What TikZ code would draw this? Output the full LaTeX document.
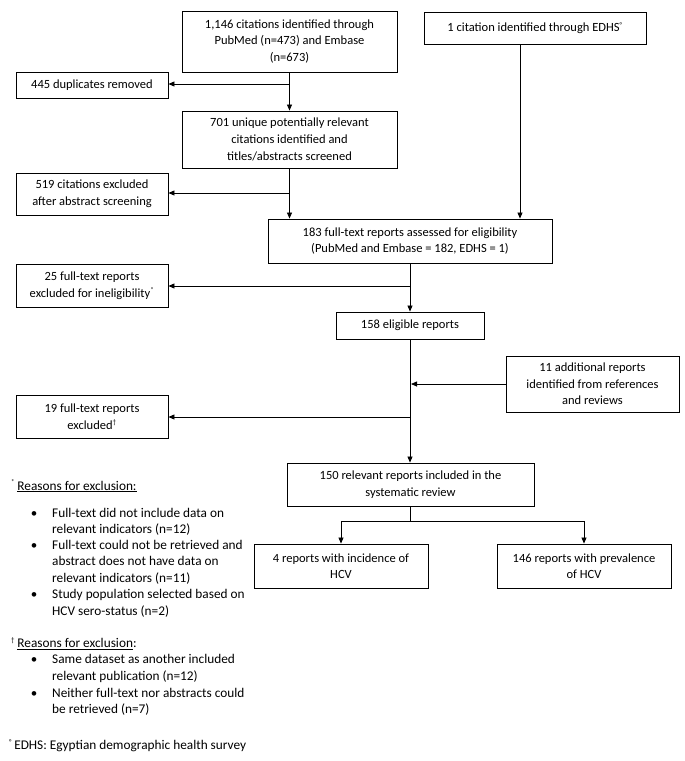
\documentclass[tikz,border=0pt]{standalone}
\usepackage{fontspec}
\setmainfont{Carlito}
\usetikzlibrary{arrows.meta}
\begin{document}
\begin{tikzpicture}[x=1pt,y=-1pt,
  box/.style={draw=black, line width=0.9pt, align=center, inner sep=1pt, font=\fontsize{12.5}{16.6}\selectfont},
  arr/.style={line width=0.8pt, -{Triangle[length=6pt,width=5pt]}},
  ln/.style={line width=0.8pt},
  ft/.style={anchor=base west, inner sep=0pt, font=\fontsize{13.3}{16}\selectfont},
  bul/.style={anchor=base, inner sep=0pt, font=\fontsize{13}{16}\selectfont}]
\useasboundingbox (0,0) rectangle (685,761);
% boxes
\node[box, minimum width=215pt, minimum height=61pt] (A) at (289.5,41.5) {1,146 citations identified through\\PubMed (n=473) and Embase\\(n=673)};
\node[box, minimum width=222pt, minimum height=32pt] (B) at (535,28) {1 citation identified through EDHS\textsuperscript{\scriptsize°}};
\node[box, minimum width=152pt, minimum height=26pt] (dup) at (92,85) {445 duplicates removed};
\node[box, minimum width=215pt, minimum height=57pt] (C) at (289.5,139.5) {701 unique potentially relevant\\citations identified and\\titles/abstracts screened};
\node[box, minimum width=152pt, minimum height=42pt] (exc1) at (92,194) {519 citations excluded\\after abstract screening};
\node[box, minimum width=284pt, minimum height=44pt] (D) at (410,241) {183 full-text reports assessed for eligibility\\(PubMed and Embase = 182, EDHS = 1)};
\node[box, minimum width=152pt, minimum height=43pt] (exc2) at (92,285.5) {25 full-text reports\\excluded for ineligibility\textsuperscript{\scriptsize*}};
\node[box, minimum width=148pt, minimum height=27pt] (elig) at (410,325.5) {158 eligible reports};
\node[box, minimum width=173pt, minimum height=56pt] (add) at (592.5,384) {11 additional reports\\identified from references\\and reviews};
\node[box, minimum width=152pt, minimum height=43pt] (exc3) at (92,416.5) {19 full-text reports\\excluded\textsuperscript{\scriptsize†}};
\node[box, minimum width=247pt, minimum height=43pt] (rel) at (410.5,484.5) {150 relevant reports included in the\\systematic review};
\node[box, minimum width=174pt, minimum height=44pt] (inc) at (341,566) {4 reports with incidence of\\HCV};
\node[box, minimum width=174pt, minimum height=44pt] (prev) at (584,566) {146 reports with prevalence\\of HCV};
% connectors
\coordinate (j1) at (289.5,84);
\coordinate (j2) at (289.5,193);
\coordinate (j3) at (410,286);
\coordinate (j4) at (410,417);
\coordinate (j5) at (410.5,521);
\coordinate (bs) at (520,44);
\draw[arr] (A.south) -- (C.north);
\draw[arr] (j1) -- (j1 -| dup.east);
\draw[arr] (C.south) -- (C.south |- D.north);
\draw[arr] (j2) -- (j2 -| exc1.east);
\draw[arr] (bs) -- (bs |- D.north);
\draw[arr] (D.south) -- (elig.north);
\draw[arr] (j3) -- (j3 -| exc2.east);
\draw[arr] (elig.south) -- (elig.south |- rel.north);
\draw[arr] (add.west) -- ([xshift=1pt]add.west -| elig.south);
\draw[arr] (j4) -- (j4 -| exc3.east);
\draw[ln] (rel.south) -- (j5);
\draw[arr] (j5) -| (inc.north);
\draw[arr] (j5) -| (prev.north);
% footnotes
\node[ft] (f1) at (11,490) {\textsuperscript{\scriptsize*}\,\underline{Reasons for exclusion:}};
\node[bul] (b1) at (34,517) {•};
\node[ft] (t1a) at (52,517) {Full-text did not include data on};
\node[ft] (t1b) at (52,533) {relevant indicators (n=12)};
\node[bul] (b2) at (34,549) {•};
\node[ft] (t2a) at (52,549) {Full-text could not be retrieved and};
\node[ft] (t2b) at (52,565.5) {abstract does not have data on};
\node[ft] (t2c) at (52,582) {relevant indicators (n=11)};
\node[bul] (b3) at (34,598.5) {•};
\node[ft] (t3a) at (52,598.5) {Study population selected based on};
\node[ft] (t3b) at (52,615) {HCV sero-status (n=2)};
\node[ft] (f2) at (11,647.5) {\textsuperscript{\scriptsize†}\,\underline{Reasons for exclusion}:};
\node[bul] (b4) at (34,663.5) {•};
\node[ft] (t4a) at (52,663.5) {Same dataset as another included};
\node[ft] (t4b) at (52,680.5) {relevant publication (n=12)};
\node[bul] (b5) at (34,697.5) {•};
\node[ft] (t5a) at (52,697.5) {Neither full-text nor abstracts could};
\node[ft] (t5b) at (52,713.5) {be retrieved (n=7)};
\node[ft] (f3) at (9,749.5) {\textsuperscript{\scriptsize°}\,EDHS: Egyptian demographic health survey};
\end{tikzpicture}
\end{document}
